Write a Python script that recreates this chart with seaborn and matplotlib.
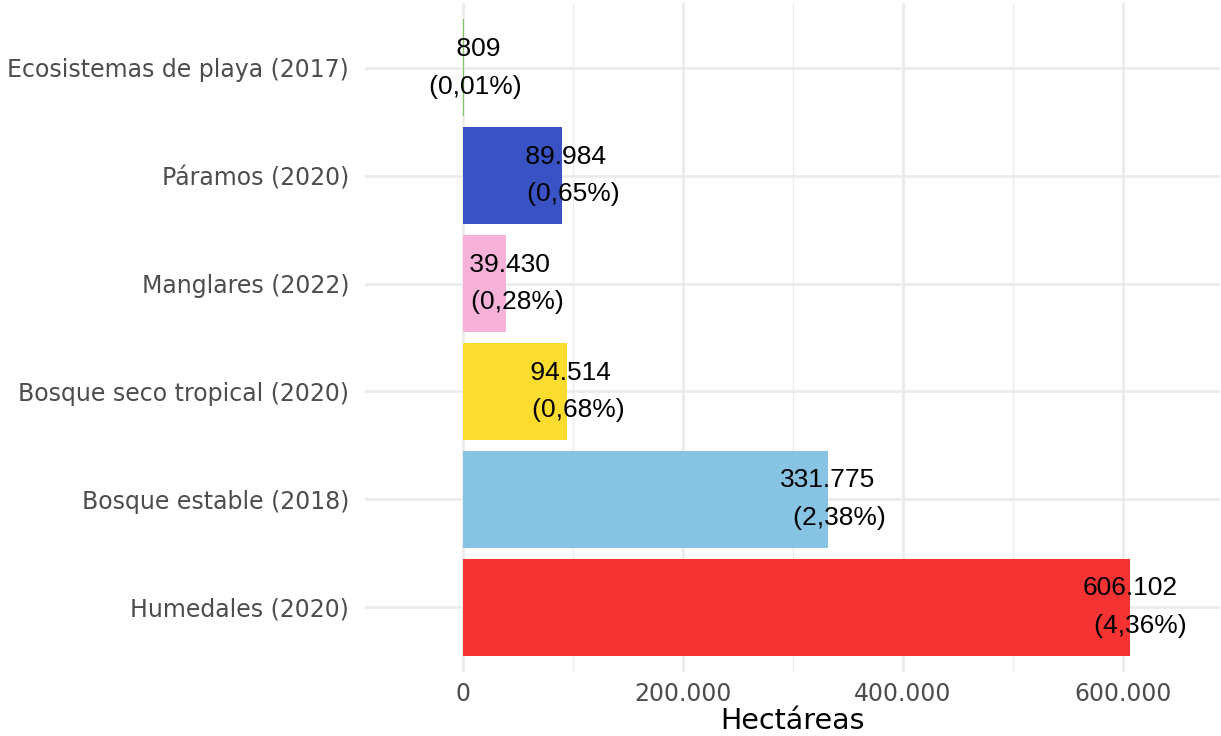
import matplotlib
matplotlib.use("Agg")
import matplotlib.pyplot as plt
import seaborn as sns
import pandas as pd
from matplotlib.ticker import FuncFormatter, MultipleLocator

# data
ecosistemas = ["Ecosistemas de playa (2017)", "Páramos (2020)", "Manglares (2022)",
               "Bosque seco tropical (2020)", "Bosque estable (2018)", "Humedales (2020)"]
hectareas = [809, 89984, 39430, 94514, 331775, 606102]
porcentajes = [0.01, 0.65, 0.28, 0.68, 2.38, 4.36]
colores = ["#7CC85F", "#3A53C4", "#F7B2D9", "#FDDC30", "#87C4E3", "#F63333"]


def miles(x, pos=None):
    # thousands separator with a dot, as in the original
    return "{:,.0f}".format(x).replace(",", ".")


df = pd.DataFrame({"ecosistema": ecosistemas, "ha": hectareas, "pct": porcentajes})

sns.set_theme(style="whitegrid")
plt.rcParams["font.family"] = ["DejaVu Sans"]

fig = plt.figure(figsize=(12.21, 7.36), dpi=100)
ax = fig.add_axes([0.299, 0.087, 0.700, 0.909])

sns.barplot(data=df, x="ha", y="ecosistema", hue="ecosistema", palette=colores,
            width=0.9, legend=False, saturation=1, linewidth=0, ax=ax)

for i, row in df.iterrows():
    etiqueta = miles(row["ha"]).rjust(7) + "\n   (" + "{:.2f}".format(row["pct"]).replace(".", ",") + "%)"
    ax.text(row["ha"], i, etiqueta, ha="center", va="center", fontsize=19,
            family="Liberation Sans", color="black", linespacing=1.72)

ax.set_xlim(-89000, 688000)
ax.set_ylim(5.6, -0.6)
ax.xaxis.set_major_locator(MultipleLocator(200000))
ax.xaxis.set_minor_locator(MultipleLocator(100000))
ax.xaxis.set_major_formatter(FuncFormatter(miles))
ax.grid(which="major", color="#EBEBEB", linewidth=2)
ax.grid(which="minor", axis="x", color="#EBEBEB", linewidth=1)
ax.set_axisbelow(True)
for s in ax.spines.values():
    s.set_visible(False)

ax.tick_params(axis="y", length=0, pad=11.5, labelsize=17, labelcolor="#4D4D4D")
ax.tick_params(axis="x", which="both", length=0, pad=7, labelsize=17, labelcolor="#4D4D4D")
ax.set_ylabel("")
ax.set_xlabel("Hectáreas", fontsize=20.5, color="black", labelpad=1)

fig.savefig("out.png", dpi=100)
